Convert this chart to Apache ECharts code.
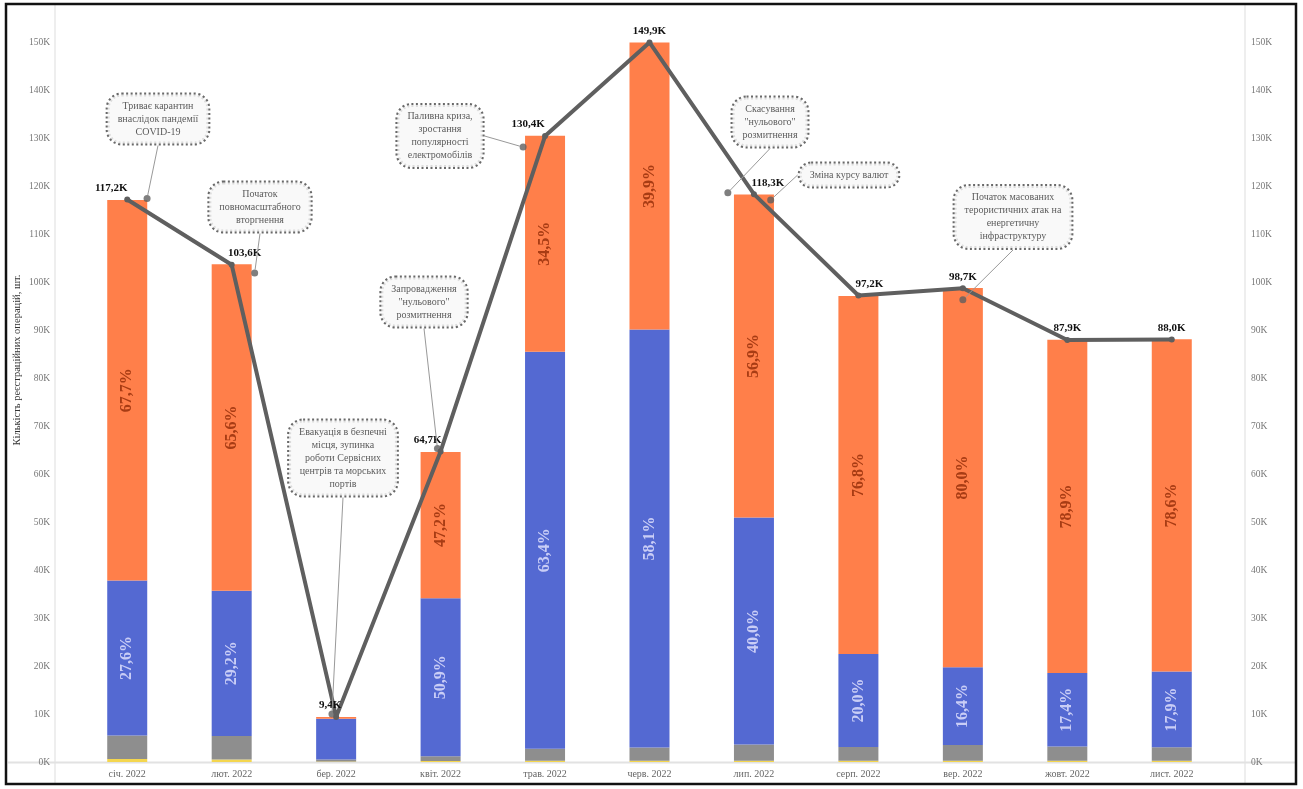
<!DOCTYPE html>
<html>
<head>
<meta charset="utf-8">
<script src="https://cdn.jsdelivr.net/npm/echarts@6/dist/echarts.min.js"></script>
<style>
  html, body { margin: 0; padding: 0; background: #fff; }
  #chart { width: 1303px; height: 789px; }
</style>
</head>
<body>
<div id="chart"></div>
<script>
// місяці
const months = ["січ. 2022", "лют. 2022", "бер. 2022", "квіт. 2022", "трав. 2022", "черв. 2022",
  "лип. 2022", "серп. 2022", "вер. 2022", "жовт. 2022", "лист. 2022"];
// загальна кількість, тис.
const totals = [117.2, 103.6, 9.4, 64.7, 130.4, 149.9, 118.3, 97.2, 98.7, 87.9, 88.0];
// частки (підписи на стовпцях)
const orangePct = [67.7, 65.6, null, 47.2, 34.5, 39.9, 56.9, 76.8, 80.0, 78.9, 78.6];
const bluePct = [27.6, 29.2, null, 50.9, 63.4, 58.1, 40.0, 20.0, 16.4, 17.4, 17.9];
// сегменти стовпців, тис.
const yellowVals = [0.6, 0.5, 0.1, 0.2, 0.25, 0.25, 0.25, 0.25, 0.25, 0.25, 0.25];
const grayVals = [4.9, 4.9, 0.4, 1.0, 2.5, 2.75, 3.4, 2.85, 3.3, 3.0, 2.8];
const blueVals = [32.3, 30.3, 8.5, 32.9, 82.7, 87.1, 47.3, 19.4, 16.2, 15.3, 15.8];
const orangeVals = [79.3, 68.0, 0.4, 30.5, 45.0, 59.8, 67.3, 74.6, 79.0, 69.4, 69.2];
// анотації
const annoText = [
  "Триває карантин\nвнаслідок пандемії\nCOVID-19",
  "Початок\nповномасштабного\nвторгнення",
  "Евакуація в безпечні\nмісця, зупинка\nроботи Сервісних\nцентрів та морських\nпортів",
  "Запровадження\n\"нульового\"\nрозмитнення",
  "Паливна криза,\nзростання\nпопулярності\nелектромобілів",
  "Скасування\n\"нульового\"\nрозмитнення",
  "Зміна курсу валют",
  "Початок масованих\nтерористичних атак на\nенергетичну\nінфраструктуру"
];
const annoX = [0.19, 1.22, 1.96, 2.97, 3.79, 5.75, 6.16, 8.0];
const annoY = [117.4, 101.9, 10.0, 65.3, 128.1, 118.6, 117.1, 96.3];

// розташування (пікселі) - не дані
const annoBox = [[158, 119], [260, 207], [343, 458], [424, 302], [440, 136], [770, 122], [849, 175], [1013, 217]];
const lineLabelDx = [-16, 13, -6, -13, -17, 0, 14, 11, 0, 0, 0];

const serif = "Liberation Serif";
const fmtK = v => v.toFixed(1).replace(".", ",") + "K";
const fmtPct = v => v == null ? "" : v.toFixed(1).replace(".", ",") + "%";

const chart = echarts.init(document.getElementById("chart"));

const option = {
  animation: false,
  backgroundColor: "#fff",
  grid: { left: 75, right: 79, top: 42, bottom: 27, containLabel: false, outerBoundsMode: "none" },
  xAxis: [
    {
      type: "category",
      data: months,
      axisLine: { show: false },
      axisTick: { show: false },
      axisLabel: { color: "#666", fontFamily: serif, fontSize: 10, margin: 7 }
    },
    { type: "value", min: -0.5, max: 10.5, show: false }
  ],
  yAxis: [
    {
      type: "value", min: 0, max: 150, interval: 10, position: "left", offset: 20,
      axisLine: { show: false }, axisTick: { show: false }, splitLine: { show: false },
      axisLabel: { color: "#777", fontFamily: serif, fontSize: 9.5, margin: 5, formatter: v => v + "K" }
    },
    {
      type: "value", min: 0, max: 150, interval: 10, position: "right", offset: 21,
      axisLine: { show: false }, axisTick: { show: false }, splitLine: { show: false },
      axisLabel: { color: "#777", fontFamily: serif, fontSize: 9.5, margin: 6, formatter: v => v + "K" }
    }
  ],
  graphic: [
    { type: "line", shape: { x1: 55, y1: 5, x2: 55, y2: 783 }, style: { stroke: "#ddd", lineWidth: 1 }, z: 0 },
    { type: "line", shape: { x1: 1245, y1: 5, x2: 1245, y2: 783 }, style: { stroke: "#ddd", lineWidth: 1 }, z: 0 },
    { type: "line", shape: { x1: 8, y1: 762.5, x2: 1295, y2: 762.5 }, style: { stroke: "#e2e2e2", lineWidth: 2 }, z: 0 },
    { type: "rect", shape: { x: 6, y: 4, width: 1290, height: 780 }, style: { fill: null, stroke: "#111", lineWidth: 2.5 }, z: 100 },
    {
      type: "text", x: 17, y: 360, rotation: Math.PI / 2,
      style: {
        text: "Кількість реєстраційних операцій, шт.", fill: "#333",
        font: "10.5px 'Liberation Serif'", align: "center", verticalAlign: "middle"
      }
    }
  ],
  series: [
    {
      name: "yellow", type: "bar", stack: "t", data: yellowVals, barWidth: 40,
      itemStyle: { color: "#f4d64e" }
    },
    {
      name: "gray", type: "bar", stack: "t", data: grayVals,
      itemStyle: { color: "#8e8e8e" }
    },
    {
      name: "blue", type: "bar", stack: "t", data: blueVals,
      itemStyle: { color: "#5469d2" },
      label: {
        show: true, position: "inside", rotate: 90,
        formatter: p => fmtPct(bluePct[p.dataIndex]),
        color: "#c9cdf6", fontFamily: serif, fontWeight: "bold", fontSize: 16
      }
    },
    {
      name: "orange", type: "bar", stack: "t", data: orangeVals,
      itemStyle: { color: "#ff7f4a" },
      label: {
        show: true, position: "inside", rotate: 90,
        formatter: p => fmtPct(orangePct[p.dataIndex]),
        color: "#a83c14", fontFamily: serif, fontWeight: "bold", fontSize: 16
      }
    },
    {
      name: "total", type: "line", data: totals, z: 5,
      lineStyle: { color: "#5f5f5f", width: 4 },
      itemStyle: { color: "#5f5f5f" },
      symbol: "circle", symbolSize: 6,
      label: {
        show: true, position: "top", distance: 3,
        formatter: p => fmtK(p.value),
        color: "#111", fontFamily: serif, fontWeight: "bold", fontSize: 11
      },
      labelLayout: p => ({ dx: lineLabelDx[p.dataIndex] })
    },
    {
      name: "notes", type: "scatter", xAxisIndex: 1, yAxisIndex: 0, z: 6,
      data: annoX.map((x, i) => [x, annoY[i]]),
      symbol: "circle", symbolSize: 7,
      itemStyle: { color: "#5f5f5f" },
      label: {
        show: true,
        formatter: p => annoText[p.dataIndex],
        color: "#333", fontFamily: serif, fontSize: 10, lineHeight: 13, align: "center",
        backgroundColor: "#f7f7f7", borderColor: "#444", borderWidth: 2, borderType: [2, 2.5],
        borderRadius: 14, padding: [5, 10]
      },
      labelLine: { show: true, lineStyle: { color: "#999", width: 1 } },
      labelLayout: p => ({
        x: annoBox[p.dataIndex][0], y: annoBox[p.dataIndex][1],
        align: "center", verticalAlign: "middle"
      })
    }
  ]
};

chart.setOption(option);
</script>
</body>
</html>
